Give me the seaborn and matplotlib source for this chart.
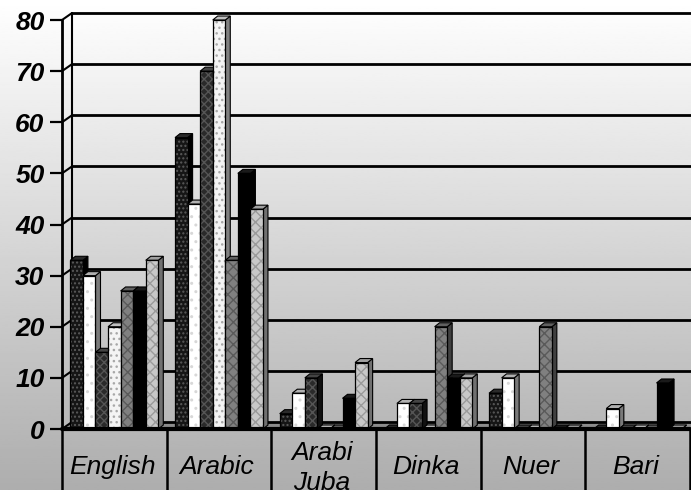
import numpy as np
import pandas as pd
import seaborn as sns
import matplotlib.pyplot as plt
from matplotlib.patches import Polygon, Rectangle

# Datos
idiomas = ['English', 'Arabic', 'Arabi\nJuba', 'Dinka', 'Nuer', 'Bari']
series = ['Serie 1', 'Serie 2', 'Serie 3', 'Serie 4', 'Serie 5', 'Serie 6', 'Serie 7']
serie1 = [33, 57, 3, 0, 7, 0]
serie2 = [30, 44, 7, 5, 10, 4]
serie3 = [15, 70, 10, 5, 0, 0]
serie4 = [20, 80, 0, 0, 0, 0]
serie5 = [27, 33, 0, 20, 20, 0]
serie6 = [27, 50, 6, 10, 0, 9]
serie7 = [33, 43, 13, 10, 0, 0]
valores = [serie1, serie2, serie3, serie4, serie5, serie6, serie7]
ticks_y = [0, 10, 20, 30, 40, 50, 60, 70, 80]

# (relleno, trama, color trama, lado, tapa)
estilos = [
    ('#151515', '....', '#5a5a5a', '#000000', '#2a2a2a'),
    ('#ffffff', '..', '#d8d8d8', '#7a7a7a', '#b0b0b0'),
    ('#2a2a2a', 'xxxx', '#555555', '#111111', '#444444'),
    ('#f4f4f4', '...', '#a8a8a8', '#808080', '#c0c0c0'),
    ('#808080', 'xxx', '#5a5a5a', '#404040', '#606060'),
    ('#000000', '', '#000000', '#000000', '#1a1a1a'),
    ('#c8c8c8', 'xxx', '#9a9a9a', '#707070', '#a0a0a0'),
]

filas = []
for s, vals in zip(series, valores):
    for idioma, v in zip(idiomas, vals):
        filas.append({'Idioma': idioma, 'Serie': s, 'Valor': v})
df = pd.DataFrame(filas)

sns.set_theme(style='white')
plt.rcParams['font.family'] = ['Liberation Sans', 'DejaVu Sans']
plt.rcParams['text.color'] = 'black'
plt.rcParams['ytick.color'] = 'black'

fig = plt.figure(figsize=(6.91, 4.9), dpi=100)

# fondo degradado
bg = fig.add_axes([0, 0, 1, 1], zorder=0)
grad = np.linspace(1.0, 0.68, 256).reshape(-1, 1)
bg.imshow(grad, cmap='gray', vmin=0, vmax=1, aspect='auto', extent=[0, 1, 0, 1])
bg.axis('off')

pos = [62 / 691, 61 / 490, 628 / 691, 421 / 490]
ax = fig.add_axes(pos, zorder=2)
ax.patch.set_alpha(0)
ytop = 82.35
sns.barplot(data=df, x='Idioma', y='Valor', hue='Serie', width=0.84, gap=0,
            errorbar=None, legend=False, ax=ax)
ax.set_xlim(-0.5, 5.5)
ax.set_ylim(0, ytop)

# pixeles por unidad
ppx = pos[2] * 691 / 6
ppy = pos[3] * 490 / ytop
dx, dy = 5 / ppx, 4 / ppy          # profundidad barras
dxw, dyw = 10 / ppx, 7 / ppy       # profundidad pared

# pared del fondo, piso y lineas
piso = Polygon([(-0.5, 0), (-0.5 + dxw, dyw), (5.7, dyw), (5.7, 0)],
               closed=True, fc='#8c8c8c', ec='none', zorder=1, clip_on=False)
ax.add_patch(piso)
for v in ticks_y:
    ax.plot([-0.5 + dxw, 5.7], [v + dyw, v + dyw], color='black', lw=2, zorder=1.2, clip_on=False)
    ax.plot([-0.5, -0.5 + dxw], [v, v + dyw], color='black', lw=1.5, zorder=1.2, clip_on=False)
ax.plot([-0.5 + dxw] * 2, [dyw, 80 + dyw], color='black', lw=1.5, zorder=1.2, clip_on=False)

# barras con efecto 3D
todas = []
for cont, est in zip(ax.containers, estilos):
    for p in cont.patches:
        todas.append((p.get_x(), p, est))
todas.sort(key=lambda t: t[0])
for k, (x0, p, est) in enumerate(todas):
    cara, trama, ctrama, lado, tapa = est
    w, h = p.get_width(), p.get_height()
    z = 3 + k * 0.01
    p.set_facecolor(cara)
    p.set_edgecolor(ctrama)
    p.set_hatch(trama)
    p.set_linewidth(0)
    p.set_zorder(z + 0.005)
    ax.add_patch(Rectangle((x0, 0), w, h, fill=False, ec='black', lw=0.9, zorder=z + 0.006))
    ax.add_patch(Polygon([(x0 + w, 0), (x0 + w + dx, dy), (x0 + w + dx, h + dy), (x0 + w, h)],
                         closed=True, fc=lado, ec='black', lw=0.8, zorder=z + 0.002))
    ax.add_patch(Polygon([(x0, h), (x0 + dx, h + dy), (x0 + w + dx, h + dy), (x0 + w, h)],
                         closed=True, fc=tapa, ec='black', lw=0.8, zorder=z + 0.003))

ax.axhline(0, color='black', lw=3, zorder=10, clip_on=False)

for sp in ['top', 'right', 'bottom']:
    ax.spines[sp].set_visible(False)
ax.spines['left'].set_color('black')
ax.spines['left'].set_linewidth(2)
ax.spines['left'].set_bounds(0, 80)
ax.set_yticks(ticks_y)
ax.set_yticklabels([str(t) for t in ticks_y])
ax.tick_params(axis='y', left=True, length=8.6, width=1.6, color='black',
               labelcolor='black', pad=4, labelsize=19)
for lbl in ax.get_yticklabels():
    lbl.set_fontweight('bold')
    lbl.set_fontstyle('italic')
ax.set_xticks([])
ax.set_xlabel('')
ax.set_ylabel('')

# fila de etiquetas
ax2 = fig.add_axes([pos[0], 0, pos[2], pos[1]], zorder=2)
ax2.patch.set_alpha(0)
ax2.set_xlim(-0.5, 5.5)
ax2.set_ylim(0, 1)
ax2.axis('off')
for b in np.arange(-0.5, 6.0, 1.0):
    ax2.plot([b, b], [0, 1], color='black', lw=1.8, clip_on=False)
for i, idioma in enumerate(idiomas):
    if '\n' in idioma:
        ax2.text(i - 0.02, 0.80, idioma, ha='center', va='top', fontsize=19,
                 fontstyle='italic', color='black', linespacing=1.3, clip_on=True)
    else:
        ax2.text(i - 0.02, 0.37, idioma, ha='center', va='center', fontsize=19,
                 fontstyle='italic', color='black', clip_on=True)

fig.savefig('out.png', dpi=100)
